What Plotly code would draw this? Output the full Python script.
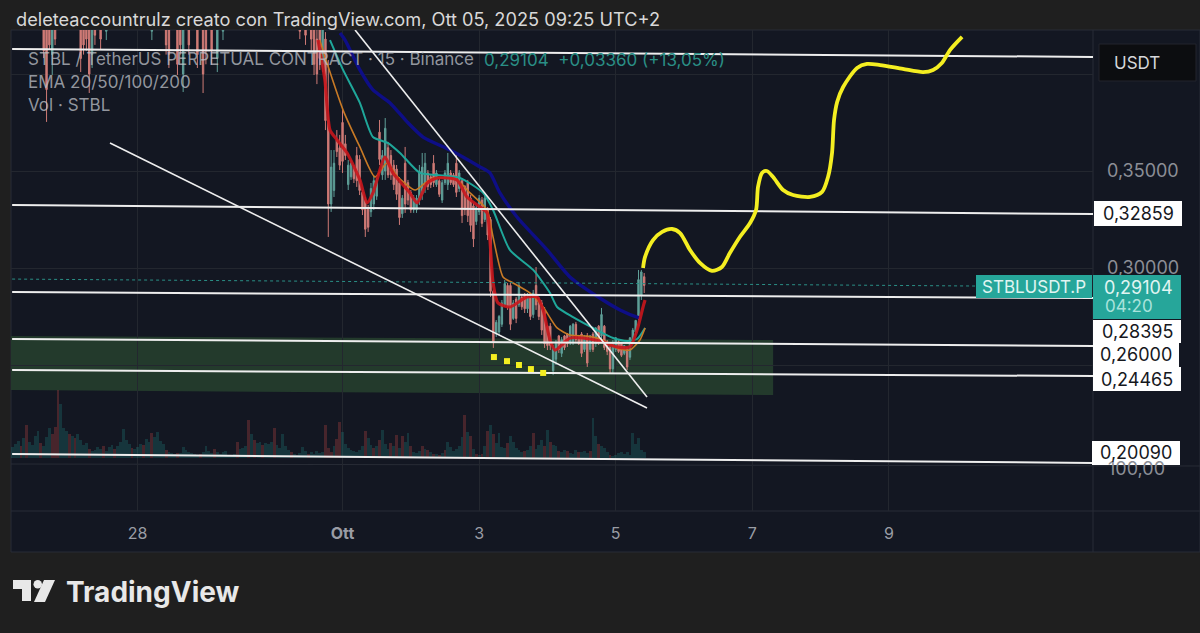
import pandas as pd
import plotly.graph_objects as go

W, H = 1200, 633
START = pd.Timestamp("2025-09-26")

# candles, hourly bars, x is hours after START
candle_hours = [15, 16, 17, 18, 19, 28, 29, 30, 31, 32, 33, 35, 37, 53, 58, 59, 62, 63, 64, 66, 69, 71, 72, 74, 76, 78, 105, 107, 109] + list(range(110, 227))
candle_open = [
    .435, .430, .430, .410, .430, .430, .432, .430, .430, .410, .430, .432, .422, .422, .430,
    .430, .430, .430, .400, .430, .430, .430, .430, .430, .408, .422, .430, .430, .430,
    .425, .418, .425, .405, .418, .376, .333, .340, .366, .362,
    .375, .364, .343, .347, .352, .358, .356, .339, .335, .331,
    .329, .333, .337, .370, .348, .350, .362, .358, .353, .351,
    .344, .328, .354, .344, .339, .330, .330, .335, .338, .342,
    .349, .347, .354, .343, .345, .335, .344, .343, .349, .348,
    .354, .341, .345, .342, .344, .336, .332, .324, .329, .335,
    .325, .330, .325, .288, .266, .267, .271, .281, .291, .291,
    .274, .284, .281, .285, .286, .279, .285, .276, .291, .284,
    .282, .278, .270, .270, .247, .253, .265, .256, .265, .266,
    .262, .262, .271, .265, .266, .258, .265, .258, .266, .261,
    .270, .265, .270, .262, .259, .248, .258, .262, .261, .256,
    .259, .254, .262, .267, .274, .286, .2955,
]
candle_close = [
    .412, .392, .415, .430, .418, .408, .415, .418, .400, .430, .420, .418, .432, .432, .415,
    .410, .405, .415, .430, .415, .410, .400, .412, .412, .430, .432, .422, .420, .418,
    .405, .400, .408, .425, .376, .333, .352, .354, .360, .353,
    .355, .358, .353, .354, .346, .345, .340, .330, .320, .321,
    .341, .345, .345, .356, .358, .372, .348, .348, .343, .338,
    .326, .336, .333, .335, .330, .336, .336, .350, .352, .354,
    .342, .343, .344, .349, .338, .344, .349, .354, .344, .343,
    .339, .349, .327, .330, .327, .322, .315, .331, .336, .323,
    .336, .317, .288, .262, .272, .275, .282, .292, .280, .271,
    .282, .274, .291, .280, .279, .285, .275, .287, .281, .275,
    .268, .261, .260, .260, .259, .261, .258, .263, .259, .261,
    .270, .271, .263, .261, .256, .265, .251, .265, .258, .269,
    .262, .276, .259, .257, .248, .261, .264, .257, .255, .260,
    .249, .264, .268, .273, .294, .298, .29104,
]
candle_high = [.445] * 29 + [
    .43, .425, .43, .43, .4216, .4072, .3608, .3608, .3711, .3686,
    .3814, .3686, .3557, .3557, .3531, .3624, .3582, .3402, .3366, .3325,
    .3438, .3479, .3464, .3763, .3608, .3773, .3650, .3608, .3557, .3531,
    .3469, .3376, .3624, .3454, .3402, .3376, .3376, .3531, .3593, .3593,
    .3505, .3479, .3582, .3505, .3464, .3454, .3505, .3593, .3505, .3490,
    .3593, .3505, .3464, .3428, .3454, .3376, .3335, .3325, .3376, .3366,
    .3376, .3314, .3263, .2887, .2732, .2758, .2835, .2938, .2923, .2923,
    .2835, .2851, .2928, .2861, .2871, .2871, .2871, .2887, .3005, .2851,
    .2835, .2799, .2706, .2716, .2603, .2629, .2655, .2644, .2655, .2665,
    .2706, .2716, .2722, .2655, .2670, .2655, .2665, .2655, .2670, .2696,
    .2706, .2794, .2706, .2629, .2603, .2629, .2644, .2629, .2613, .2603,
    .2593, .2644, .2691, .2732, .2990, .2990, .2974,
]
candle_low = [
    .4082, .3753, .4124, .3995, .4149, .4010, .4100, .4120, .3902, .4031, .4150, .4124, .4175, .4175, .4100,
    .4031, .3995, .4100, .3907, .4100, .4031, .3902, .4050, .4047, .4010, .4175, .4180, .4150, .4120,
    .3995, .3948, .4021, .4010, .3711, .3160, .3289, .3366, .3572, .3505,
    .3490, .3557, .3402, .3454, .3438, .3418, .3376, .3273, .3160, .3186,
    .3263, .3299, .3351, .3531, .3454, .3454, .3464, .3454, .3402, .3351,
    .3222, .3258, .3284, .3325, .3284, .3284, .3284, .3325, .3351, .3387,
    .3402, .3412, .3418, .3418, .3366, .3335, .3428, .3402, .3428, .3418,
    .3366, .3392, .3232, .3273, .3237, .3186, .3108, .3222, .3273, .3211,
    .3237, .3144, .2851, .2588, .2644, .2655, .2696, .2799, .2784, .2680,
    .2732, .2716, .2799, .2784, .2768, .2768, .2732, .2742, .2784, .2732,
    .2655, .2588, .2577, .2577, .2448, .2500, .2562, .2541, .2577, .2593,
    .2603, .2603, .2619, .2603, .2541, .2567, .2490, .2567, .2567, .2593,
    .2603, .2629, .2577, .2551, .2459, .2459, .2567, .2562, .2541, .2551,
    .2474, .2526, .2613, .2655, .2732, .2835, .2871,
]

# volume, from hour 3 to hour 226
volume = [
    9, 11, 14, 17, 12, 20, 33, 16, 13, 22,
    27, 15, 12, 21, 30, 24, 31, 68, 54, 30,
    27, 24, 22, 20, 24, 18, 13, 15, 9, 7,
    8, 11, 9, 12, 7, 11, 13, 9, 12, 16,
    29, 18, 14, 10, 9, 11, 14, 13, 19, 16,
    25, 21, 26, 17, 14, 8, 6, 5, 4, 5,
    5, 11, 8, 6, 5, 4, 3, 4, 6, 12,
    7, 5, 9, 6, 4, 6, 7, 3, 3, 4,
    16, 9, 10, 12, 38, 24, 18, 15, 16, 13,
    15, 14, 16, 30, 13, 10, 24, 12, 8, 6,
    4, 3, 5, 11, 7, 4, 6, 4, 7, 5,
    6, 33, 10, 6, 12, 19, 36,
    26, 14, 10, 8, 7, 6, 8, 12, 27, 20,
    13, 10, 12, 18, 28, 14, 9, 15, 12, 23,
    10, 22, 16, 25, 12, 6, 5, 7, 12, 9,
    8, 6, 4, 4, 3, 5, 8, 16, 11, 7,
    9, 12, 21, 43, 26, 22, 9, 4, 3, 4,
    12, 27, 33, 24, 15, 25, 11, 10, 15, 22,
    16, 10, 8, 6, 7, 8, 12, 25, 9, 13,
    18, 12, 28, 16, 13, 12, 7, 6, 8, 7,
    5, 4, 8, 6, 6, 7, 5, 7, 40, 22,
    14, 12, 10, 6, 3, 2, 3, 5, 6, 4,
    6, 3, 25, 14, 20, 8, 6,
]
volume_red_hours = [7, 9, 14, 18, 19, 20, 24, 26, 31, 36, 40, 46, 50, 53, 58, 62, 70, 75, 83, 87, 89, 92, 96, 102, 108, 114, 115, 116,
                    118, 119, 128, 131, 133, 137, 139, 141, 144, 148, 150, 152, 154, 156, 163, 165, 167, 169, 171, 173, 178, 184,
                    187, 191, 193, 196, 199, 203, 207, 210, 214]

# moving averages
ema20_hours = [111.4, 113.8, 115.6, 118.1, 121.6, 126.1, 128.6, 130.7, 134.9, 137.7, 143.7, 146.2, 149.7, 153.2, 160.2, 163.7, 167.3, 170.8,
               171.8, 172.9, 174.6, 178.8, 184.8, 188.3, 190.5, 192.9, 194.7, 199.9, 204.5, 211.5, 216.4, 221, 223.5, 225.6, 226.3]
ema20_price = [.4175, .3969, .3711, .3660, .3593, .3454, .3335, .3387, .3572, .3490, .3387, .3335, .3438, .3464, .3454, .3366, .3325, .3284,
               .3144, .2923, .2820, .2799, .2851, .2851, .2784, .2629, .2577, .2639, .2639, .2619, .2593, .2593, .2680, .2799, .2835]
ema50_hours = [112, 115, 120.2, 126.1, 131.4, 135.6, 139.5, 145.5, 149, 151.8, 160.2, 164.8, 170.8, 172.9, 176.4, 179.9, 185.9, 190.5,
               195.4, 199.9, 205.9, 211.5, 216.4, 221, 224.5, 226.3]
ema50_price = [.4175, .4036, .3814, .3624, .3469, .3541, .3469, .3402, .3438, .3464, .3454, .3387, .3299, .3160, .2954, .2923, .2871, .2799,
               .2691, .2655, .2649, .2629, .2588, .2577, .2629, .2691]
ema100_hours = [115.6, 120.2, 126.1, 130.7, 136, 140.2, 147.2, 153.2, 161.3, 169.4, 172.9, 178.8, 187, 192.9, 195.4, 201, 208, 215.1, 220, 223.5, 226.3]
ema100_price = [.4175, .4021, .3851, .3675, .3644, .3593, .3490, .3479, .3464, .3387, .3299, .3093, .2990, .2871, .2799, .2747, .2691, .2639, .2624, .2634, .2691]
ema200_hours = [119.1, 120.9, 126.1, 130.7, 136.7, 142.7, 148.3, 157.8, 168.3, 171.8, 175.3, 181.3, 191.9, 199.9, 211.5, 217.5, 223.5, 224.9]
ema200_price = [.4211, .4175, .4021, .3918, .3851, .3753, .3675, .3608, .3521, .3490, .3387, .3263, .3093, .2954, .2835, .2784, .2747, .2742]

# hand drawn forecast
forecast_hours = [225.6, 226.3, 229.1, 232.3, 235.8, 238.6, 242.1, 245.6, 249.8, 253.3, 256.1, 259.6, 263.2, 265.3, 266, 267.4, 269.1, 271.3,
                  274.8, 278.3, 284.3, 288.5, 290.6, 292, 292.7, 293.8, 295.9, 300.8, 304.3, 308.9, 316.9, 324, 327.5, 330.6, 333.5, 337.7]
forecast_price = [.3, .3057, .3144, .3186, .3201, .3180, .3093, .3026, .2985, .3005, .3077, .3160, .3232, .3299, .3418, .3490, .3500, .3469,
                  .3402, .3376, .3366, .3392, .3469, .3593, .3763, .3856, .3933, .4031, .4052, .4046, .4026, .4010, .4021, .4057, .4124, .4191]
dots_hours = [173.2, 177.8, 182, 186.2, 190.5]
dots_price = [.2541, .2520, .2500, .2479, .2459]

# drawn levels, each (start price, end price) across the whole pane
level_hours = [3.9, 383.7]
levels = [(.4129, .4088), (.3325, .3278), (.2876, .2845), (.2634, .2598), (.2474, .2443), (.2041, .1995)]
wedge_hours = [[38.3, 227], [124.4, 227]]
wedge_price = [[.3644, .2278], [.4227, .2335]]
last_price_hours = [3.9, 343]
last_price = [.2943, .2907]
zone_hours = [3.5, 271.3, 271.3, 3.5]
zone_price = [.2650, .2629, .2345, .2371]

price_ticks = [.25, .30, .35, .40]
price_labels = ["", "0,30000", "0,35000", ""]
date_ticks = ["2025-09-28", "2025-10-01", "2025-10-03", "2025-10-05", "2025-10-07", "2025-10-09"]
date_labels = ["28", "<b>Ott</b>", "3", "5", "7", "9"]
price_tags = [("0,32859", 213.5), ("0,28395", 331), ("0,26000", 354.5), ("0,24465", 379), ("0,20090", 452.5)]


def to_dates(hours):
    return [START + pd.Timedelta(hours=h) for h in hours]


def px(x, y):
    return x / W, 1 - y / H


def label(fig, x, y, text, size, color, anchor="left", family="Inter"):
    fx, fy = px(x, y)
    fig.add_annotation(x=fx, y=fy, xref="paper", yref="paper", text=text, showarrow=False, xanchor=anchor, yanchor="middle",
                       font=dict(family=family, size=size, color=color))


def box(fig, x0, y0, x1, y1, fill, line="rgba(0,0,0,0)", layer="above"):
    fx0, fy0 = px(x0, y0)
    fx1, fy1 = px(x1, y1)
    fig.add_shape(type="rect", xref="paper", yref="paper", x0=fx0, y0=fy0, x1=fx1, y1=fy1, fillcolor=fill, line=dict(color=line, width=1), layer=layer)


def hline(fig, x0, y0, x1, y1, color="#282c36", layer="below"):
    fx0, fy0 = px(x0, y0)
    fx1, fy1 = px(x1, y1)
    fig.add_shape(type="line", xref="paper", yref="paper", x0=fx0, y0=fy0, x1=fx1, y1=fy1, line=dict(color=color, width=1), layer=layer)


fig = go.Figure()

# volume sits underneath on its own axis
volume_hours = list(range(3, 3 + len(volume)))
volume_colors = ["rgba(239,83,80,0.24)" if h in volume_red_hours else "rgba(38,166,154,0.22)" for h in volume_hours]
fig.add_trace(go.Bar(x=to_dates(volume_hours), y=volume, marker=dict(color=volume_colors, line=dict(width=0)), yaxis="y"))

fig.add_trace(go.Candlestick(
    x=to_dates(candle_hours), open=candle_open, high=candle_high, low=candle_low, close=candle_close, yaxis="y2",
    increasing=dict(line=dict(color="#5f9f98", width=1), fillcolor="#5f9f98"),
    decreasing=dict(line=dict(color="#cf7a76", width=1), fillcolor="#cf7a76"),
))

for hours, prices, color, width, alpha in [
    (ema200_hours, ema200_price, "#0e0e86", 3.4, 1),
    (ema100_hours, ema100_price, "#1fa79a", 2, 1),
    (ema50_hours, ema50_price, "#c87a26", 1.6, 1),
    (ema20_hours, ema20_price, "#c9161c", 3.2, 0.9),
]:
    fig.add_trace(go.Scatter(x=to_dates(hours), y=prices, mode="lines", yaxis="y2", opacity=alpha,
                             line=dict(color=color, width=width, shape="spline", smoothing=0.6)))

fig.add_trace(go.Scatter(x=to_dates(last_price_hours), y=last_price, mode="lines", yaxis="y2", line=dict(color="#2a8f86", width=1, dash="dot")))

for start, end in levels:
    fig.add_trace(go.Scatter(x=to_dates(level_hours), y=[start, end], mode="lines", yaxis="y2", line=dict(color="#eeeeee", width=2)))

for hours, prices in zip(wedge_hours, wedge_price):
    fig.add_trace(go.Scatter(x=to_dates(hours), y=prices, mode="lines", yaxis="y2", line=dict(color="#eeeeee", width=1.6)))

fig.add_trace(go.Scatter(x=to_dates(dots_hours), y=dots_price, mode="markers", yaxis="y2", marker=dict(color="#f4ee21", size=6, symbol="square")))
fig.add_trace(go.Scatter(x=to_dates(forecast_hours), y=forecast_price, mode="lines", yaxis="y2",
                         line=dict(color="#f4ee21", width=3.8, shape="spline", smoothing=0.8)))

# panel and dividers
box(fig, 11, 30, 1200, 552, "#131722", "#282c36", layer="below")
zone_dates = [d.strftime("%Y-%m-%d_%H:%M:%S") for d in to_dates(zone_hours)]
zone_path = "M " + " L ".join(f"{d},{p}" for d, p in zip(zone_dates, zone_price)) + " Z"
fig.add_shape(type="path", path=zone_path, xref="x", yref="y2", fillcolor="#233a2c", line=dict(width=0), layer="below")
hline(fig, 1093, 30, 1093, 552)
hline(fig, 11, 511, 1200, 511)
hline(fig, 11, 464, 1200, 466)

# price scale tags
box(fig, 976, 275, 1092, 298, "#26a69a")
box(fig, 1093, 275, 1181, 319, "#26a69a")
label(fig, 1034, 287, "STBLUSDT.P", 17, "#e0f5f2", "center")
label(fig, 1138, 287, "0,29104", 18, "#e0f5f2", "center")
label(fig, 1129, 306, "04:20", 17, "#a9e3dc", "center")
label(fig, 1136, 468, "100,00", 18, "#8b8e96", "center")
tag_edges = {"0,32859": (1094, 1182, 201, 226), "0,28395": (1093, 1181, 320, 343), "0,26000": (1093, 1179, 343, 367),
             "0,24465": (1093, 1181, 367, 391), "0,20090": (1092, 1180, 441, 465)}
for text, y in price_tags:
    x0, x1, y0, y1 = tag_edges[text]
    box(fig, x0, y0, x1, y1, "#ffffff")
    label(fig, (x0 + x1) / 2, y, text, 18, "#16181d", "center")
box(fig, 1099, 44, 1196, 81, "#0c0d10", "#22252c")
label(fig, 1112, 63, "USDT", 17, "#d5d7db")

# header and legend
label(fig, 14, 19, "deleteaccountrulz creato con TradingView.com, Ott 05, 2025 09:25 UTC+2", 18.2, "#d8d8d8")
label(fig, 26, 59, "STBL / TetherUS PERPETUAL CONTRACT · 15 · Binance", 17, "rgba(190,193,200,0.75)")
label(fig, 482, 60, "0,29104  +0,03360 (+13,05%)", 17, "#2a8f86")
label(fig, 26, 82, "EMA 20/50/100/200", 17, "rgba(190,193,200,0.75)")
label(fig, 26, 105, "Vol · STBL", 17, "rgba(190,193,200,0.75)")

# logo
logo_bar = [(13, 580), (31, 580), (31, 601), (22, 601), (22, 589), (13, 589)]
logo_slash = [(44, 580), (55, 580), (45, 602), (34, 602)]
for points in [logo_bar, logo_slash]:
    path = "M " + " L ".join("{},{}".format(*px(x, y)) for x, y in points) + " Z"
    fig.add_shape(type="path", path=path, xref="paper", yref="paper", fillcolor="#e8e8e8", line=dict(width=0))
dot0 = px(33.5, 580)
dot1 = px(42, 588.5)
fig.add_shape(type="circle", xref="paper", yref="paper", x0=dot0[0], y0=dot0[1], x1=dot1[0], y1=dot1[1], fillcolor="#e8e8e8", line=dict(width=0))
label(fig, 64, 592, "<b>TradingView</b>", 28, "#e8e8e8")

fig.update_layout(
    width=W, height=H,
    margin=dict(l=0, r=0, t=0, b=0),
    paper_bgcolor="#1f1f1f",
    plot_bgcolor="rgba(0,0,0,0)",
    showlegend=False,
    hovermode=False,
    bargap=0,
    separators=",.",
    font=dict(family="Inter", color="#9a9da5"),
    xaxis=dict(
        domain=[11 / W, 1093 / W], type="date", range=to_dates([3.51, 383.7]), rangeslider=dict(visible=False),
        tickvals=date_ticks, ticktext=date_labels, ticks="", ticklabelstandoff=11, tickfont=dict(size=16, color="#9a9da5"),
        showgrid=True, gridcolor="#23272f", zeroline=False, showline=False,
    ),
    yaxis=dict(domain=[1 - 511 / H, 1 - 30 / H], range=[-53, 428], visible=False, showgrid=False),
    yaxis2=dict(
        domain=[1 - 511 / H, 1 - 30 / H], overlaying="y", side="right", range=[.17474, .42268],
        tickvals=price_ticks, ticktext=price_labels, ticks="", ticklabelstandoff=13, tickfont=dict(size=18, color="#8b8e96"),
        showgrid=True, gridcolor="#23272f", zeroline=False, showline=False,
    ),
)

# the page's default margin would shift the whole figure by 8px
fig.write_html("out.html", config=dict(displayModeBar=False), post_script="document.body.style.margin='0';document.body.style.overflow='hidden';")
